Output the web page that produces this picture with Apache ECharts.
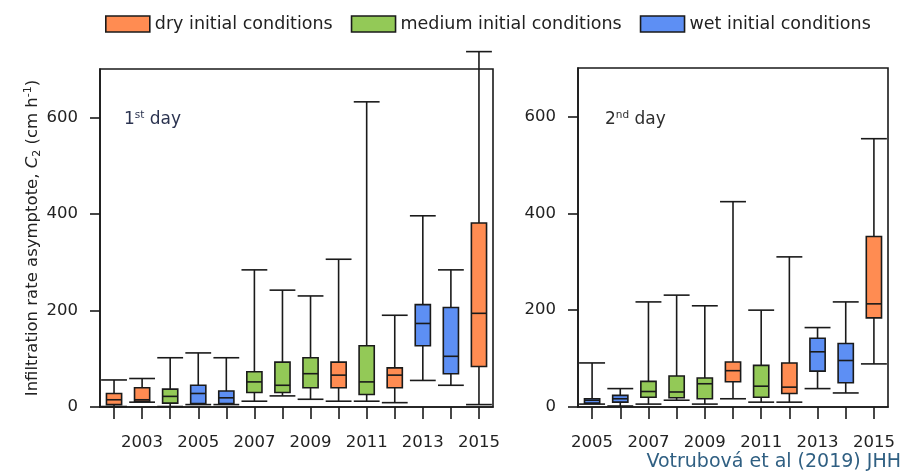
<!DOCTYPE html>
<html>
<head>
<meta charset="utf-8">
<script src="https://cdn.jsdelivr.net/npm/echarts@6/dist/echarts.min.js"></script>
<style>
  html, body { margin: 0; padding: 0; background: #fff; }
  #chart { width: 919px; height: 475px; }
</style>
</head>
<body>
<div id="chart"></div>
<script>
// Initial-condition classes and their fill colours
const conditions = ['dry initial conditions', 'medium initial conditions', 'wet initial conditions'];
const conditionColors = ['#FF8C52', '#93C957', '#5D8FF4'];

// 1st day: box-plot statistics of C2 per year (cm h-1)
const years1 = ['2002', '2003', '2004', '2005', '2006', '2007', '2008', '2009', '2010', '2011', '2012', '2013', '2014', '2015'];
const cond1  = [0, 0, 1, 2, 2, 1, 1, 1, 0, 1, 0, 2, 2, 0];
const min1   = [1, 10, 1, 5, 5, 12, 23, 16, 12, 12, 9, 55, 45, 5];
const q1d1   = [5, 12, 8, 7, 7, 30, 30, 40, 40, 26, 40, 127, 69, 84];
const med1   = [15, 15, 22, 28, 19, 52, 45, 69, 66, 52, 66, 173, 105, 194];
const q3d1   = [28, 40, 37, 45, 33, 73, 93, 102, 93, 127, 81, 212, 206, 381];
const max1   = [56, 59, 102, 112, 102, 284, 242, 230, 306, 632, 190, 396, 284, 736];

// 2nd day
const years2 = ['2005', '2006', '2007', '2008', '2009', '2010', '2011', '2012', '2013', '2014', '2015'];
const cond2  = [2, 2, 1, 1, 1, 0, 1, 0, 2, 2, 0];
const min2   = [6, 2, 6, 14, 6, 17, 10, 10, 38, 29, 89];
const q1d2   = [8, 10, 20, 19, 17, 52, 20, 28, 74, 50, 184];
const med2   = [14, 17, 32, 31, 48, 75, 43, 41, 114, 96, 213];
const q3d2   = [17, 24, 53, 64, 60, 93, 86, 91, 142, 131, 352];
const max2   = [91, 38, 217, 231, 209, 424, 200, 310, 164, 217, 554];

// Y axis scale and ticks
const yMin = 0, yMax = 700, yStep = 200;
const yTicks = [0, 200, 400, 600];

const FONT = 'DejaVu Sans';
const INK = '#1a1a1a';
const TXT = '#222222';
const LW = 1.6;

// Draws one box with whiskers: [category, min, q1, median, q3, max]
function renderBox(params, api) {
  const c = api.value(0);
  const lo = api.coord([c, api.value(1)]);
  const q1 = api.coord([c, api.value(2)]);
  const md = api.coord([c, api.value(3)]);
  const q3 = api.coord([c, api.value(4)]);
  const hi = api.coord([c, api.value(5)]);
  const band = api.size([1, 0])[0];
  const boxW = band * 0.54;
  const capW = band * 0.92;
  const cx = lo[0];
  const ls = { stroke: INK, lineWidth: LW };
  return {
    type: 'group',
    children: [
      { type: 'line', shape: { x1: cx, y1: hi[1], x2: cx, y2: lo[1] }, style: ls },
      { type: 'line', shape: { x1: cx - capW / 2, y1: hi[1], x2: cx + capW / 2, y2: hi[1] }, style: ls },
      { type: 'line', shape: { x1: cx - capW / 2, y1: lo[1], x2: cx + capW / 2, y2: lo[1] }, style: ls },
      { type: 'rect', shape: { x: cx - boxW / 2, y: q3[1], width: boxW, height: q1[1] - q3[1] },
        style: { fill: api.visual('color'), stroke: INK, lineWidth: LW } },
      { type: 'line', shape: { x1: cx - boxW / 2, y1: md[1], x2: cx + boxW / 2, y2: md[1] }, style: ls }
    ]
  };
}

function buildSeries(panel, cond, mins, q1s, meds, q3s, maxs) {
  return conditions.map((name, k) => ({
    type: 'custom',
    name: name,
    xAxisIndex: panel,
    yAxisIndex: panel,
    clip: false,
    itemStyle: { color: conditionColors[k], borderColor: INK, borderWidth: LW },
    encode: { x: 0, y: [1, 2, 3, 4, 5] },
    renderItem: renderBox,
    data: cond.map((cv, i) => cv === k ? [i, mins[i], q1s[i], meds[i], q3s[i], maxs[i]] : null)
             .filter(d => d !== null)
  }));
}

function xAxisFor(panel, years) {
  return {
    type: 'category',
    gridIndex: panel,
    data: years,
    boundaryGap: true,
    axisLine: { show: true, lineStyle: { color: INK, width: LW } },
    axisTick: { show: true, interval: 0, alignWithLabel: true, length: 12, lineStyle: { color: INK, width: LW } },
    axisLabel: {
      interval: (idx, val) => Number(val) % 2 === 1,
      margin: 27, fontSize: 16.5, fontFamily: FONT, color: TXT
    },
    splitLine: { show: false }
  };
}

function yAxisFor(panel, withName) {
  const ax = {
    type: 'value',
    gridIndex: panel,
    min: yMin, max: yMax, interval: yStep,
    axisLine: { show: true, lineStyle: { color: INK, width: LW } },
    axisTick: { show: true, length: 10, customValues: yTicks, lineStyle: { color: INK, width: LW } },
    axisLabel: { customValues: yTicks, margin: 22, fontSize: 16.5, fontFamily: FONT, color: TXT },
    splitLine: { show: false }
  };
  if (withName) {
    ax.name = 'Infiltration rate asymptote, {i|C}{sub|2} (cm h{sup|-1})';
    ax.nameLocation = 'middle';
    ax.nameRotate = 90;
    ax.nameGap = 57;
    ax.nameTextStyle = {
      fontSize: 16.5, fontFamily: FONT, color: TXT, lineHeight: 20,
      rich: {
        i:   { fontSize: 16.5, fontFamily: FONT, fontStyle: 'italic', color: TXT, lineHeight: 20 },
        sub: { fontSize: 11, fontFamily: FONT, color: TXT, verticalAlign: 'bottom', lineHeight: 12 },
        sup: { fontSize: 11, fontFamily: FONT, color: TXT, verticalAlign: 'top', lineHeight: 12 }
      }
    };
  }
  return ax;
}

const chart = echarts.init(document.getElementById('chart'), null, { renderer: 'canvas' });

chart.setOption({
  backgroundColor: '#ffffff',
  animation: false,
  legend: {
    left: 100, top: 10,
    itemWidth: 44, itemHeight: 16, itemGap: 18,
    icon: 'rect',
    selectedMode: false,
    data: conditions,
    itemStyle: { borderColor: INK, borderWidth: LW },
    textStyle: { fontSize: 17.5, fontFamily: FONT, color: TXT }
  },
  grid: [
    { left: 100, top: 69, width: 393, height: 338, show: true, borderColor: INK, borderWidth: LW, containLabel: false },
    { left: 578, top: 68, width: 310, height: 339, show: true, borderColor: INK, borderWidth: LW, containLabel: false }
  ],
  xAxis: [xAxisFor(0, years1), xAxisFor(1, years2)],
  yAxis: [yAxisFor(0, true), yAxisFor(1, false)],
  graphic: [
    {
      type: 'text', left: 124, top: 110, z: 10,
      style: {
        text: '1{sup|st} day', fill: '#2b3350', font: '17px ' + FONT, lineHeight: 20,
        rich: { sup: { fontSize: 10.5, fontFamily: FONT, fill: '#2b3350', verticalAlign: 'top', lineHeight: 12 } }
      }
    },
    {
      type: 'text', left: 605, top: 110, z: 10,
      style: {
        text: '2{sup|nd} day', fill: '#2e2e2e', font: '17px ' + FONT, lineHeight: 20,
        rich: { sup: { fontSize: 10.5, fontFamily: FONT, fill: '#2e2e2e', verticalAlign: 'top', lineHeight: 12 } }
      }
    },
    {
      type: 'text', right: 18, top: 453, z: 10,
      style: { text: 'Votrubová et al (2019) JHH', fill: '#2f5f82', font: '19px ' + FONT }
    }
  ],
  series: [].concat(
    buildSeries(0, cond1, min1, q1d1, med1, q3d1, max1),
    buildSeries(1, cond2, min2, q1d2, med2, q3d2, max2)
  )
});
</script>
</body>
</html>
